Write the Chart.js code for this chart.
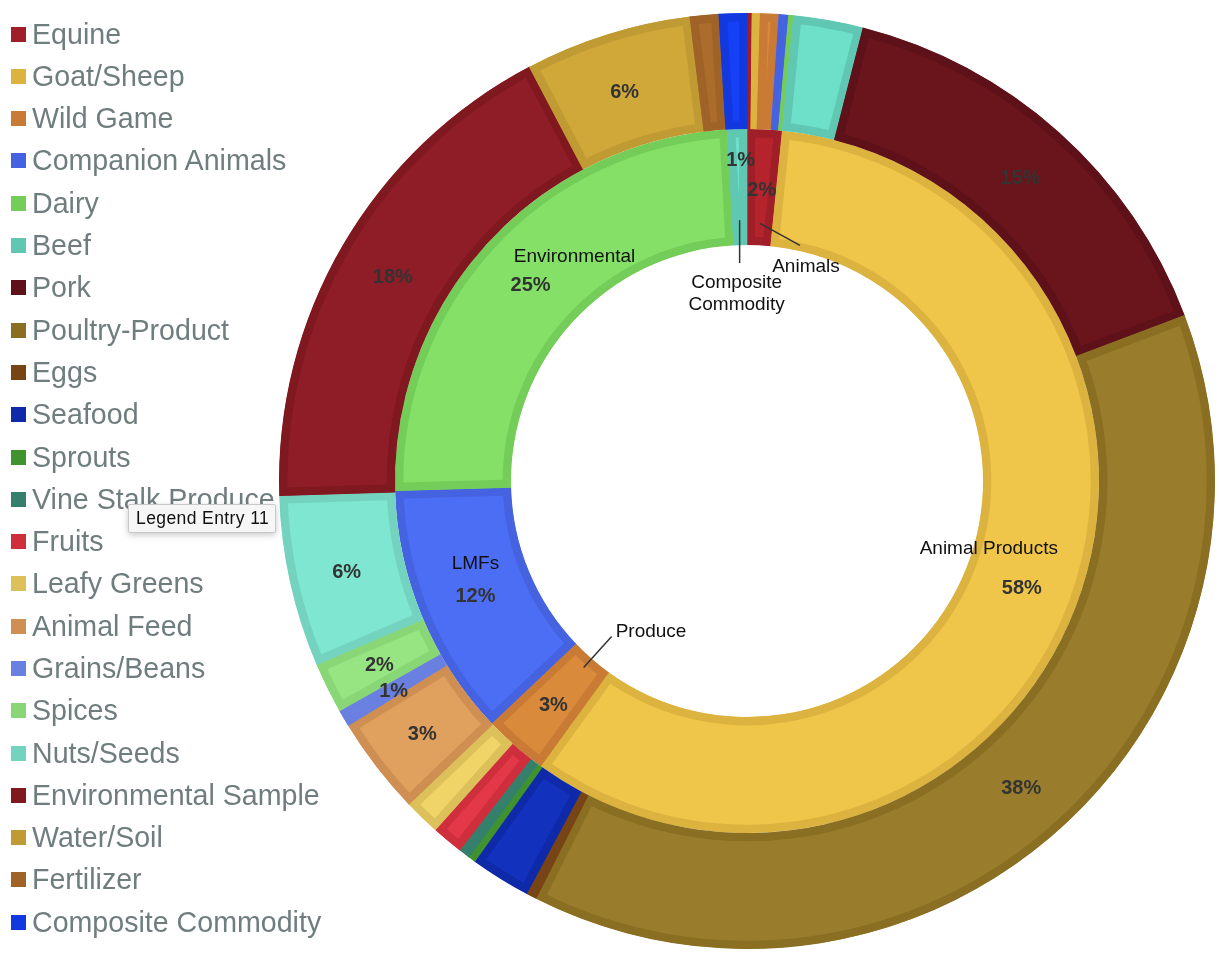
<!DOCTYPE html>
<html>
<head>
<meta charset="utf-8">
<title>Sample categories</title>
<script src="https://cdn.jsdelivr.net/npm/chart.js@4.4.1/dist/chart.umd.min.js"></script>
<style>
  body { margin: 0; background: #fff; }
  #wrap { position: relative; width: 1219px; height: 956px; overflow: hidden; }
  #pie { position: absolute; left: 0; top: 0; }
  #legend { position: absolute; left: 0; top: 12.9px; margin: 0; padding: 0; list-style: none;
            font-family: "Liberation Sans", Arial, sans-serif; font-size: 28.6px; color: #707d7e; }
  #legend li { height: 42.3px; display: flex; align-items: center; white-space: nowrap; }
  #legend .box { width: 15px; height: 15px; margin: 0 6px 0 11px; flex: none; }
  #tip { position: absolute; left: 128px; top: 504px; width: 148px; height: 29px; box-sizing: border-box;
         background: #f6f6f6; border: 1px solid #c9c9c9; border-radius: 2px;
         box-shadow: 0 2px 6px rgba(0,0,0,0.22); font-family: "Liberation Sans", Arial, sans-serif;
         font-size: 17.5px; letter-spacing: 0.4px; color: #111; line-height: 27px; padding-left: 7px; }
</style>
</head>
<body>
<div id="wrap">
  <canvas id="pie" width="1219" height="956"></canvas>
  <ul id="legend"></ul>
  <div id="tip">Legend Entry 11</div>
</div>
<script>
// Outer ring: sample categories (share of samples, %)
const categories = ['Equine', 'Goat/Sheep', 'Wild Game', 'Companion Animals', 'Dairy', 'Beef', 'Pork',
  'Poultry-Product', 'Eggs', 'Seafood', 'Sprouts', 'Vine Stalk Produce', 'Fruits', 'Leafy Greens',
  'Animal Feed', 'Grains/Beans', 'Spices', 'Nuts/Seeds', 'Environmental Sample', 'Water/Soil',
  'Fertilizer', 'Composite Commodity'];
const shares = [0.17, 0.28, 0.64, 0.33, 0.17, 2.4, 15.25, 38.2, 0.36, 2.08, 0.25, 0.39, 1.08, 1.25,
  3.39, 0.58, 1.75, 5.92, 17.8, 5.75, 0.99, 0.96];

// Inner ring: commodity groups (%)
const groups = ['Animals', 'Animal Products', 'Produce', 'LMFs', 'Environmental', 'Composite Commodity'];
const groupShares = [1.6, 58.4, 2.95, 11.65, 24.55, 0.9];

// outer slices that carry a percentage label
const labelled = ['Pork', 'Poultry-Product', 'Animal Feed', 'Grains/Beans', 'Spices', 'Nuts/Seeds',
  'Environmental Sample', 'Water/Soil'];

// colours: legend / border shade and the lighter fill
const edgeColors = ['#a01e27', '#dcb33f', '#c97a35', '#4563e0', '#74cc59', '#5fc7b2', '#5e1118',
  '#8a6f22', '#774515', '#0f2aa8', '#3f922d', '#35806d', '#cf2f3c', '#dcc05a', '#cf8e52', '#6a80e0',
  '#88d676', '#74d3bf', '#801820', '#c09b33', '#9f6227', '#1238e0'];
const fillColors = ['#b5232d', '#efc64a', '#d98a3a', '#4b6ef5', '#84e066', '#6ee0c9', '#6a141c',
  '#9a7d2c', '#854e1b', '#1232bd', '#48a335', '#3c8d78', '#e23847', '#f0d468', '#dfa15d', '#7087e8',
  '#97e483', '#7fe7d1', '#8e1d27', '#d0a83a', '#ac6c2c', '#1540f5'];

// where the inner-ring names go
const innerLayout = {
  'Animals': { from: 22, leader: [40, 22], text: ['Animals'], at: [6, 21] },
  'Animal Products': { name: [-33, -37] },
  'Produce': { from: 12, leader: [28, -31], text: ['Produce'], at: [4, -5], align: 'left' },
  'LMFs': { name: [0, -30] },
  'Environmental': { name: [44, -25] },
  'Composite Commodity': { from: 25, leader: [0, 43], text: ['Composite', 'Commodity'], at: [-3, 20], pct: [2, -30] }
};

const FONT = '"Liberation Sans", Arial, sans-serif';
const PCT_DY = 3;  // percent text sits a little below the slice centre
const pct = (v, arr) => Math.round(v / arr.reduce((a, b) => a + b, 0) * 100) + '%';

// draws percentages and group names on top of the rings
const ringLabels = {
  id: 'ringLabels',
  afterDatasetsDraw(chart) {
    const ctx = chart.ctx;
    ctx.save();
    ctx.textAlign = 'center';
    ctx.textBaseline = 'middle';
    ctx.fillStyle = '#333';
    ctx.font = 'bold 20px ' + FONT;

    chart.getDatasetMeta(0).data.forEach((arc, i) => {
      if (!labelled.includes(categories[i])) return;
      const p = arc.getCenterPoint();
      ctx.fillText(pct(shares[i], shares), p.x, p.y + PCT_DY);
    });

    chart.getDatasetMeta(1).data.forEach((arc, i) => {
      const lay = innerLayout[groups[i]];
      const p = arc.getCenterPoint();
      const shift = lay.pct || [0, 0];
      ctx.fillStyle = '#333';
      ctx.font = 'bold 20px ' + FONT;
      ctx.textAlign = 'center';
      ctx.fillText(pct(groupShares[i], groupShares), p.x + shift[0], p.y + shift[1] + PCT_DY);

      ctx.font = '19px ' + FONT;
      ctx.fillStyle = '#111';
      if (lay.name) {
        ctx.fillText(groups[i], p.x + lay.name[0], p.y + lay.name[1]);
      } else {
        const mid = (arc.startAngle + arc.endAngle) / 2;
        const r = arc.innerRadius + lay.from;
        const sx = arc.x + r * Math.cos(mid), sy = arc.y + r * Math.sin(mid);
        const ex = sx + lay.leader[0], ey = sy + lay.leader[1];
        ctx.strokeStyle = '#333';
        ctx.lineWidth = 1.5;
        ctx.beginPath();
        ctx.moveTo(sx, sy);
        ctx.lineTo(ex, ey);
        ctx.stroke();
        ctx.textAlign = lay.align || 'center';
        lay.text.forEach((t, k) => ctx.fillText(t, ex + lay.at[0], ey + lay.at[1] + k * 22));
      }
    });
    ctx.restore();
  }
};

new Chart(document.getElementById('pie'), {
  type: 'doughnut',
  data: {
    labels: categories,
    datasets: [
      { data: shares, backgroundColor: fillColors, borderColor: edgeColors },
      { data: groupShares, labels: groups, backgroundColor: fillColors.slice(0, 6), borderColor: edgeColors.slice(0, 6) }
    ]
  },
  options: {
    responsive: false,
    animation: false,
    radius: 468,
    cutout: '50.43%',
    layout: { padding: { left: 275, top: 6 } },
    elements: { arc: { borderWidth: 8, borderAlign: 'inner', borderJoinStyle: 'miter' } },
    plugins: { legend: { display: false }, tooltip: { enabled: false } }
  },
  plugins: [ringLabels]
});

// legend on the left, built from the same arrays
const legend = document.getElementById('legend');
categories.forEach((c, i) => {
  const li = document.createElement('li');
  li.innerHTML = '<span class="box" style="background:' + edgeColors[i] + '"></span>' + c;
  legend.appendChild(li);
});
</script>
</body>
</html>
